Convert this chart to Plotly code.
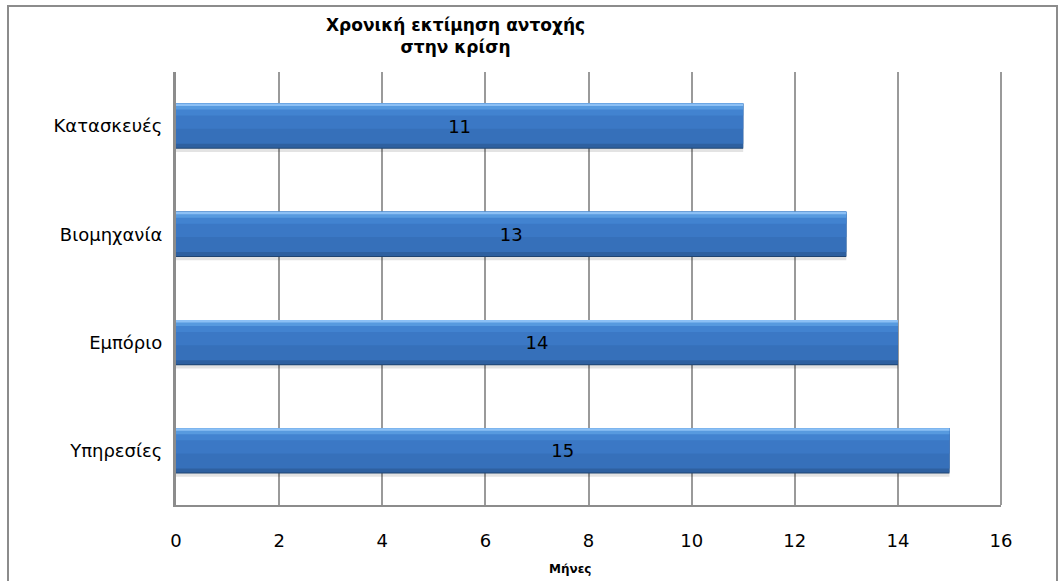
import plotly.graph_objects as go

# Estimated months of resilience to the crisis, per sector
sectors = ["Υπηρεσίες", "Εμπόριο", "Βιομηχανία", "Κατασκευές"]
months = [15, 14, 13, 11]
x_ticks = [0, 2, 4, 6, 8, 10, 12, 14, 16]

title_text = "<b>Χρονική εκτίμηση αντοχής<br>στην κρίση</b>"
x_title = "<b>Μήνες</b>"

W, H = 1058, 581
L, R, T, B = 176, 57, 72, 76
pw, ph = W - L - R, H - T - B

FONT = "DejaVu Sans, Verdana, sans-serif"

fig = go.Figure()

BW = 0.42
half = BW / 2
px = BW / 45.0  # one pixel of bar thickness in axis units

# stacked strips (bottom edge -> top highlight) give the bevelled blue look
layers = [
    (-half - 3 * px, BW, "rgba(0,0,0,0.11)"),   # soft drop shadow
    (-half, BW, "#1F4472"),
    (-half + 1 * px, BW - 1 * px, "#2E60A0"),
    (-half + 5 * px, BW - 5 * px, "#3670BA"),
    (-half + 20 * px, BW - 20 * px, "#3B78C5"),
    (half - 12 * px, 12 * px, "#4283D0"),
    (half - 6 * px, 6 * px, "#579ADF"),
    (half - 2.5 * px, 2.5 * px, "#8CC0F5"),
]
for off, wd, col in layers:
    fig.add_trace(go.Bar(
        y=sectors, x=months, orientation="h",
        offset=off, width=wd,
        marker=dict(color=col, line=dict(width=0)),
        hoverinfo="skip", showlegend=False,
    ))

# transparent top layer carries the value labels
fig.add_trace(go.Bar(
    y=sectors, x=months, orientation="h",
    offset=-half, width=BW,
    marker=dict(color="rgba(0,0,0,0)", line=dict(width=0)),
    text=[str(v) for v in months], textposition="inside",
    insidetextanchor="middle", textangle=0,
    textfont=dict(family=FONT, size=18, color="#000000"),
    hoverinfo="skip", showlegend=False,
))

fig.update_layout(
    width=W, height=H,
    margin=dict(l=L, r=R, t=T, b=B),
    paper_bgcolor="white", plot_bgcolor="white",
    barmode="overlay",
    font=dict(family=FONT, size=18, color="#000000"),
    xaxis=dict(
        range=[0, 16], tickvals=x_ticks, ticktext=[str(t) for t in x_ticks],
        showgrid=True, gridcolor="#9A9A9A", gridwidth=2,
        showline=True, linecolor="#8C8C8C", linewidth=2,
        zeroline=False, ticks="", ticklabelstandoff=18,
        tickfont=dict(family=FONT, size=18, color="#000000"),
        fixedrange=True,
    ),
    yaxis=dict(
        range=[-0.5, 3.5],
        showgrid=False, showline=True, linecolor="#8C8C8C", linewidth=3,
        zeroline=False, ticks="", ticklabelstandoff=7,
        tickfont=dict(family=FONT, size=18, color="#000000"),
        fixedrange=True,
    ),
    shapes=[
        # outer chart border
        dict(type="rect", xref="paper", yref="paper",
             x0=(8 - L) / pw, x1=(1057 - L) / pw,
             y0=(H - B - 600) / ph, y1=(H - B - 6) / ph,
             line=dict(color="#8C8C8C", width=2), fillcolor="rgba(0,0,0,0)",
             layer="below"),
        # right edge of plot area
        dict(type="line", xref="paper", yref="paper",
             x0=1, x1=1, y0=0, y1=1,
             line=dict(color="#9A9A9A", width=2)),
    ],
    annotations=[
        dict(text=title_text, xref="paper", yref="paper",
             x=(455 - L) / pw, y=(H - B - 36) / ph,
             xanchor="center", yanchor="middle", showarrow=False,
             font=dict(family=FONT, size=17, color="#000000")),
        dict(text=x_title, xref="paper", yref="paper",
             x=(570 - L) / pw, y=(H - B - 569) / ph,
             xanchor="center", yanchor="middle", showarrow=False,
             font=dict(family=FONT, size=12, color="#000000")),
    ],
)

fig.write_html("out.html")
